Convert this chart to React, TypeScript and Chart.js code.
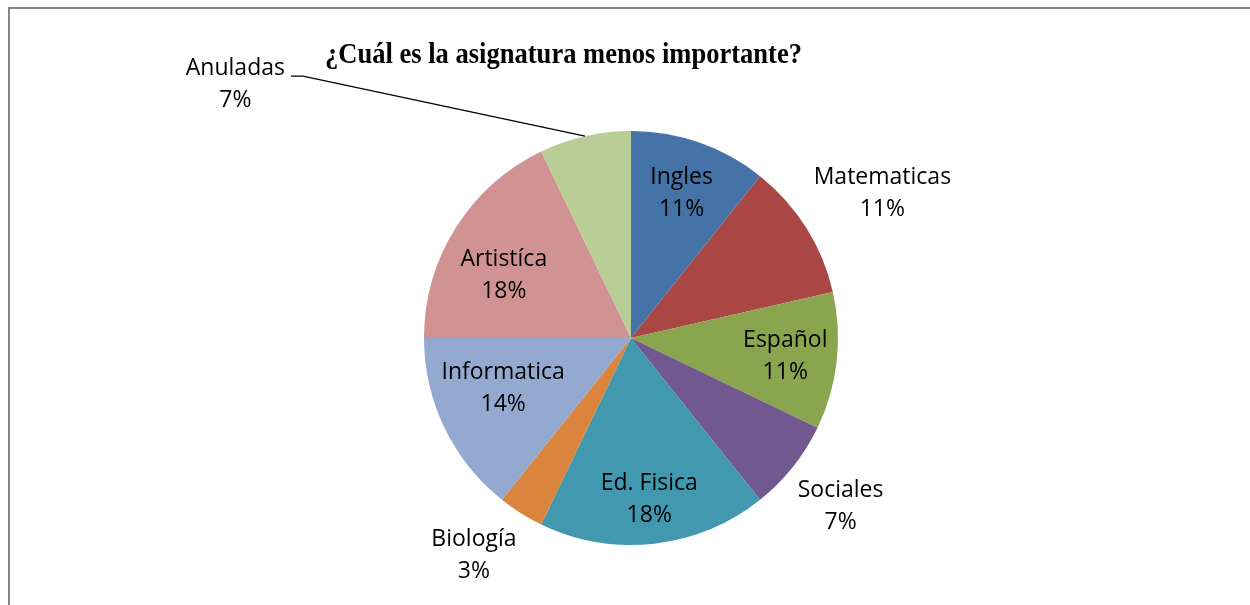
import React, { useEffect, useRef } from "react";
import { Chart, registerables } from "chart.js";

Chart.register(...registerables);

const categories = ["Ingles", "Matematicas", "Español", "Sociales", "Ed. Fisica", "Biología", "Informatica", "Artistíca", "Anuladas"];
const counts = [3, 3, 3, 2, 5, 1, 4, 5, 2];
const percentLabels = ["11%", "11%", "11%", "7%", "18%", "3%", "14%", "18%", "7%"];
const colors = ["#4572A7", "#AA4643", "#89A54E", "#71588F", "#4198AF", "#DB843D", "#93A9CF", "#D19392", "#B9CD96"];
const titleText = "¿Cuál es la asignatura menos importante?";

// label placement: radial factor of the radius + fine offset (px)
const labelPlacement = [
  { k: 0.74, dx: 0, dy: 0 },
  { k: 1.4, dx: 6, dy: 10 },
  { k: 0.75, dx: 0, dy: 1 },
  { k: 1.295, dx: 0, dy: 1 },
  { k: 0.787, dx: 0, dy: 0 },
  { k: 1.29, dx: -15, dy: -9 },
  { k: 0.664, dx: -4, dy: -9 },
  { k: 0.68, dx: -8, dy: 12 },
  { k: 1.62, dx: -321, dy: 73, leader: true },
];

const LABEL_FONT = '23px "Open Sans", "Noto Sans", sans-serif';
const LINE_GAP = 32;
const TITLE_WIDTH = 477;

const decorPlugin = {
  id: "decor",
  beforeDraw(chart: any) {
    const ctx = chart.ctx;
    ctx.save();
    ctx.fillStyle = "#ffffff";
    ctx.fillRect(0, 0, chart.width, chart.height);
    ctx.fillStyle = "#868686";
    ctx.fillRect(8, 7, chart.width - 8, 2);
    ctx.fillRect(8, 7, 2, chart.height - 7);
    ctx.restore();
  },
  afterDatasetsDraw(chart: any) {
    const ctx = chart.ctx;
    const meta = chart.getDatasetMeta(0);
    ctx.save();
    // title
    ctx.fillStyle = "#000";
    ctx.font = 'bold 29px "Liberation Serif", "Times New Roman", serif';
    ctx.textAlign = "center";
    ctx.textBaseline = "alphabetic";
    const tw = ctx.measureText(titleText).width;
    ctx.save();
    ctx.translate(563.5, 63);
    ctx.scale(TITLE_WIDTH / tw, 1);
    ctx.fillText(titleText, 0, 0);
    ctx.restore();

    ctx.font = LABEL_FONT;
    ctx.textBaseline = "middle";
    meta.data.forEach((arc: any, i: number) => {
      const p = arc.getProps(["x", "y", "startAngle", "endAngle", "outerRadius"], true);
      const mid = (p.startAngle + p.endAngle) / 2;
      const pl = labelPlacement[i];
      const cx = p.x + Math.cos(mid) * p.outerRadius * pl.k + pl.dx;
      const cy = p.y + Math.sin(mid) * p.outerRadius * pl.k + pl.dy;
      if (pl.leader) {
        const ex = p.x + Math.cos(mid) * p.outerRadius;
        const ey = p.y + Math.sin(mid) * p.outerRadius;
        const w = ctx.measureText(categories[i]).width;
        const lx = cx + w / 2 + 6;
        ctx.strokeStyle = "#000";
        ctx.lineWidth = 1.3;
        ctx.beginPath();
        ctx.moveTo(ex, ey);
        ctx.lineTo(lx + 12, cy - LINE_GAP / 2 + 8);
        ctx.lineTo(lx, cy - LINE_GAP / 2 + 8);
        ctx.stroke();
      }
      ctx.fillStyle = "#000";
      ctx.fillText(categories[i], cx, cy - LINE_GAP / 2);
      ctx.fillText(percentLabels[i], cx, cy + LINE_GAP / 2);
    });
    ctx.restore();
  },
};

export default function App() {
  const ref = useRef<HTMLCanvasElement>(null);
  useEffect(() => {
    document.body.style.margin = "0";
    const chart = new Chart(ref.current as HTMLCanvasElement, {
      type: "pie",
      data: {
        labels: categories,
        datasets: [
          {
            data: counts,
            backgroundColor: colors,
            borderWidth: 0,
          },
        ],
      },
      options: {
        animation: false,
        responsive: false,
        maintainAspectRatio: false,
        layout: { padding: { left: 424, right: 412, top: 131, bottom: 60 } },
        plugins: {
          legend: { display: false },
          title: { display: false },
          tooltip: { enabled: false },
        },
      },
      plugins: [decorPlugin],
    });
    return () => chart.destroy();
  }, []);
  return <canvas ref={ref} width={1250} height={605} style={{ display: "block" }} />;
}
